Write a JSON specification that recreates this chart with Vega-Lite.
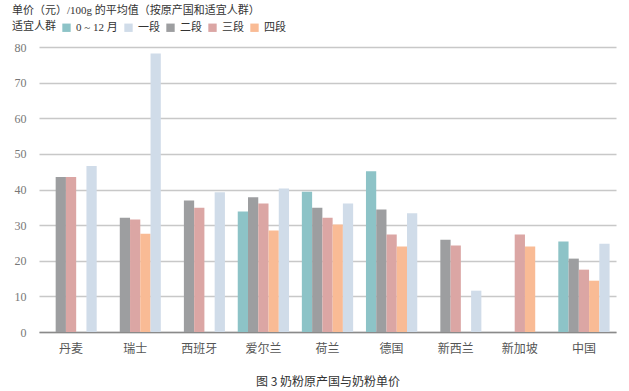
{
  "$schema": "https://vega.github.io/schema/vega-lite/v6.json",
  "width": 577,
  "height": 285,
  "autosize": {"type": "none"},
  "padding": {"left": 39, "top": 47, "right": 13, "bottom": 59},
  "background": "#ffffff",
  "title": {
    "text": "单价（元）/100g 的平均值（按原产国和适宜人群）",
    "anchor": "start",
    "frame": "group",
    "dx": -27,
    "offset": 6,
    "fontSize": 11,
    "fontWeight": "normal",
    "font": "Liberation Serif, Noto Sans CJK SC",
    "color": "#333333"
  },
  "data": {
    "values": [
      {"country": "丹麦", "series": "二段", "value": 43.5},
      {"country": "丹麦", "series": "三段", "value": 43.5},
      {"country": "丹麦", "series": "一段", "value": 46.6},
      {"country": "瑞士", "series": "二段", "value": 32.1},
      {"country": "瑞士", "series": "三段", "value": 31.6},
      {"country": "瑞士", "series": "四段", "value": 27.6},
      {"country": "瑞士", "series": "一段", "value": 78.2},
      {"country": "西班牙", "series": "二段", "value": 36.9},
      {"country": "西班牙", "series": "三段", "value": 34.9},
      {"country": "西班牙", "series": "一段", "value": 39.2},
      {"country": "爱尔兰", "series": "0 ~ 12 月", "value": 33.8},
      {"country": "爱尔兰", "series": "二段", "value": 37.8},
      {"country": "爱尔兰", "series": "三段", "value": 36.1},
      {"country": "爱尔兰", "series": "四段", "value": 28.5},
      {"country": "爱尔兰", "series": "一段", "value": 40.3},
      {"country": "荷兰", "series": "0 ~ 12 月", "value": 39.4},
      {"country": "荷兰", "series": "二段", "value": 34.9},
      {"country": "荷兰", "series": "三段", "value": 32.1},
      {"country": "荷兰", "series": "四段", "value": 30.2},
      {"country": "荷兰", "series": "一段", "value": 36.1},
      {"country": "德国", "series": "0 ~ 12 月", "value": 45.1},
      {"country": "德国", "series": "二段", "value": 34.4},
      {"country": "德国", "series": "三段", "value": 27.4},
      {"country": "德国", "series": "四段", "value": 24.0},
      {"country": "德国", "series": "一段", "value": 33.3},
      {"country": "新西兰", "series": "二段", "value": 25.9},
      {"country": "新西兰", "series": "三段", "value": 24.3},
      {"country": "新西兰", "series": "一段", "value": 11.6},
      {"country": "新加坡", "series": "三段", "value": 27.4},
      {"country": "新加坡", "series": "四段", "value": 24.0},
      {"country": "中国", "series": "0 ~ 12 月", "value": 25.4},
      {"country": "中国", "series": "二段", "value": 20.6},
      {"country": "中国", "series": "三段", "value": 17.5},
      {"country": "中国", "series": "四段", "value": 14.4},
      {"country": "中国", "series": "一段", "value": 24.8}
    ]
  },
  "mark": {"type": "bar"},
  "encoding": {
    "x": {
      "field": "country",
      "type": "nominal",
      "sort": ["丹麦", "瑞士", "西班牙", "爱尔兰", "荷兰", "德国", "新西兰", "新加坡", "中国"],
      "scale": {"paddingInner": 0.2, "paddingOuter": 0.1},
      "axis": {
        "title": "图 3  奶粉原产国与奶粉单价",
        "titleFont": "Noto Sans CJK SC",
        "titleFontSize": 12,
        "titleFontWeight": "normal",
        "titleColor": "#333333",
        "titlePadding": 22,
        "labelAngle": 0,
        "labelFont": "Liberation Serif, Noto Sans CJK SC",
        "labelFontSize": 12,
        "labelColor": "#555555",
        "labelPadding": 11,
        "ticks": false,
        "domain": true,
        "domainColor": "#8a8a8a",
        "domainWidth": 1.5,
        "grid": false
      }
    },
    "xOffset": {
      "field": "series",
      "type": "nominal",
      "scale": {"domain": ["0 ~ 12 月", "二段", "三段", "四段", "一段"], "paddingInner": 0, "paddingOuter": 0}
    },
    "y": {
      "field": "value",
      "type": "quantitative",
      "scale": {"domain": [0, 80]},
      "axis": {
        "title": null,
        "values": [0, 10, 20, 30, 40, 50, 60, 70, 80],
        "labelFont": "Liberation Serif",
        "labelFontSize": 12,
        "labelColor": "#777777",
        "labelPadding": 13,
        "ticks": false,
        "domain": false,
        "grid": true,
        "gridColor": "#c8c8c8",
        "gridWidth": 1.5
      }
    },
    "color": {
      "field": "series",
      "type": "nominal",
      "scale": {
        "domain": ["0 ~ 12 月", "一段", "二段", "三段", "四段"],
        "range": ["#8dc3c7", "#d0dce9", "#9d9ea0", "#dba6a4", "#f9bb95"]
      },
      "legend": {
        "title": "适宜人群",
        "orient": "none",
        "legendX": -27,
        "legendY": -25,
        "direction": "horizontal",
        "titleOrient": "left",
        "titleFont": "Noto Sans CJK SC",
        "titleFontSize": 11,
        "titleFontWeight": "normal",
        "titleColor": "#333333",
        "titlePadding": 5,
        "labelFont": "Liberation Serif, Noto Sans CJK SC",
        "labelFontSize": 11,
        "labelColor": "#333333",
        "symbolType": "square",
        "symbolSize": 70,
        "symbolStrokeWidth": 0,
        "columnPadding": 5,
        "labelOffset": 4
      }
    }
  },
  "config": {"view": {"stroke": null}}
}
